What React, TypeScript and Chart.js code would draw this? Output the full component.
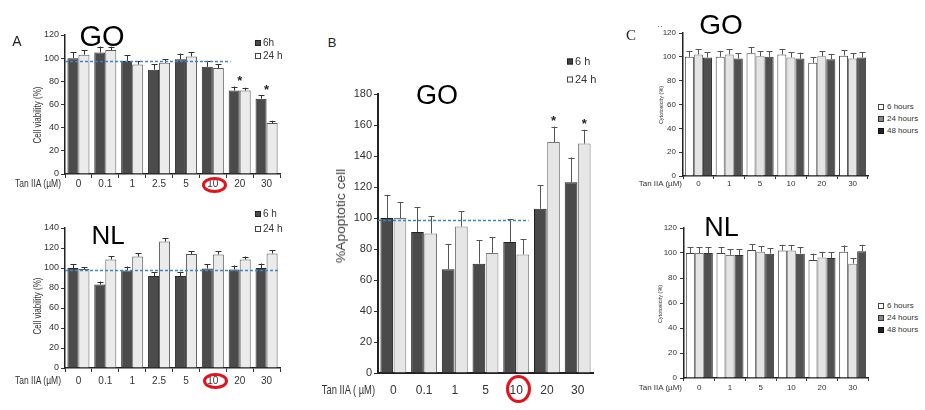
import React, { useEffect, useRef } from "react";
import { Chart, registerables } from "chart.js";
Chart.register(...registerables);

// ---------------- DATA ----------------
const labelsA = ["0", "0.1", "1", "2.5", "5", "10", "20", "30"];
const goA6h = [100, 105, 97.5, 90, 99, 92.5, 72, 65];
const goA6hErr = [5, 5, 5, 5, 5, 5, 3.5, 3];
const goA24h = [103, 107, 94.5, 96, 101.5, 91.5, 72, 44];
const goA24hErr = [4, 3, 3, 3, 3.5, 3.5, 2.5, 2];
const nlA6h = [100, 83.5, 97.5, 92, 92, 99.5, 98.5, 100];
const nlA6hErr = [4, 3, 4, 4, 4, 4, 4, 4.5];
const nlA24h = [99, 108.5, 111.5, 126.5, 114, 113.5, 108.5, 114.5];
const nlA24hErr = [2, 3.5, 3.5, 3, 2.5, 3.5, 3, 3.5];

const labelsB = ["0", "0.1", "1", "5", "10", "20", "30"];
const goB6h = [100, 91, 67, 70.5, 84.5, 106, 123];
const goB6hErr = [15, 16, 16, 15, 15, 15, 16];
const goB24h = [100, 90, 94.5, 77.5, 76.5, 149, 148];
const goB24hErr = [10, 11, 10, 10, 10, 10, 9];

const labelsC = ["0", "1", "5", "10", "20", "30"];
const goC6 = [100, 100, 103, 102, 95, 101];
const goC6Err = [5, 5, 5, 4.5, 4.5, 4.5];
const goC24 = [102, 102, 100.5, 99.5, 100.5, 98.5];
const goC24Err = [4.5, 4.5, 4, 4.5, 4.5, 4.5];
const goC48 = [99.5, 98.5, 100, 98.5, 98, 99.5];
const goC48Err = [4.5, 4.5, 4.5, 5, 4.5, 4.5];
const nlC6 = [100, 100, 102.5, 102, 94.5, 101];
const nlC6Err = [4.5, 4.5, 4.5, 4.5, 5, 5];
const nlC24 = [100, 98.5, 101, 102, 96.5, 91.5];
const nlC24Err = [4.5, 4.5, 4.5, 4.5, 4.5, 4.5];
const nlC48 = [100, 98.5, 99.5, 99.5, 96, 101.5];
const nlC48Err = [4.5, 4.5, 4.5, 5, 4.5, 5];

const refGoA = 97.5;
const refNlA = 98;
const refGoB = 99;

// ---------------- STYLE ----------------
const NARROW = "'Liberation Sans Narrow','Arial Narrow','Liberation Sans',Arial,sans-serif";
const SANS = "'Liberation Sans',Arial,Helvetica,sans-serif";
const SERIF = "'Liberation Serif','Times New Roman',serif";
const DARK = "#4b4b4b";
const LIGHT = "#ebebeb";

type DS = { data: number[]; err: number[]; bg: string; border: string };
type PanelProps = {
  area: number[];
  labels: string[];
  datasets: DS[];
  yMax: number;
  yStep: number;
  font: string;
  fontSize: number;
  xFontSize?: number;
  tickColor: string;
  yPad: number;
  xPad: number;
  xTickLen: number;
  yTickLen: number;
  axisW: number;
  catPct: number;
  barPct: number;
  errColor: string;
  cap: number;
  refLine?: { value: number; frac: number };
  stars?: { idx: number[]; ds: number | null; gap: number };
};

function Panel(p: PanelProps) {
  const ref = useRef<HTMLCanvasElement>(null);
  const [l, t, r, b] = p.area;
  const YW = 50, PT = 12, PR = 6, XH = 30;
  const cl = l - YW, ct = t - PT, cw = r - l + YW + PR, ch = b - t + PT + XH;
  useEffect(() => {
    const canvas = ref.current as HTMLCanvasElement;
    const extras = {
      id: "extras",
      afterDatasetsDraw(chart: any) {
        const ctx = chart.ctx;
        const ys = chart.scales.y;
        const xs = chart.scales.x;
        const area = chart.chartArea;
        ctx.save();
        // error bars
        p.datasets.forEach((d, i) => {
          const meta = chart.getDatasetMeta(i);
          meta.data.forEach((el: any, j: number) => {
            const top = ys.getPixelForValue(d.data[j] + d.err[j]);
            const x = Math.round(el.x) + 0.5;
            ctx.strokeStyle = p.errColor;
            ctx.lineWidth = 1;
            ctx.beginPath();
            ctx.moveTo(x, el.y);
            ctx.lineTo(x, top);
            ctx.moveTo(x - p.cap, Math.round(top) + 0.5);
            ctx.lineTo(x + p.cap, Math.round(top) + 0.5);
            ctx.stroke();
          });
        });
        // reference line
        if (p.refLine) {
          const y = Math.round(ys.getPixelForValue(p.refLine.value)) + 0.5;
          ctx.strokeStyle = "#3f86c8";
          ctx.lineWidth = 1.3;
          ctx.setLineDash([3, 2]);
          ctx.beginPath();
          ctx.moveTo(area.left, y);
          ctx.lineTo(area.left + p.refLine.frac * (area.right - area.left), y);
          ctx.stroke();
          ctx.setLineDash([]);
        }
        // stars
        if (p.stars) {
          ctx.fillStyle = "#222";
          ctx.font = "bold 13px " + SANS;
          ctx.textAlign = "center";
          ctx.textBaseline = "middle";
          p.stars.idx.forEach((j) => {
            let x: number, top: number;
            if (p.stars!.ds === null) {
              x = xs.getPixelForValue(j);
              top = Math.min(...p.datasets.map((d) => ys.getPixelForValue(d.data[j] + d.err[j])));
            } else {
              const k = p.stars!.ds as number;
              const el = chart.getDatasetMeta(k).data[j];
              x = el.x;
              top = ys.getPixelForValue(p.datasets[k].data[j] + p.datasets[k].err[j]);
            }
            ctx.fillText("*", x, top - p.stars!.gap);
          });
        }
        ctx.restore();
      },
    };
    const yfont = { family: p.font, size: p.fontSize };
    const xfont = { family: p.font, size: p.xFontSize || p.fontSize };
    const chart = new Chart(canvas, {
      type: "bar",
      data: {
        labels: p.labels,
        datasets: p.datasets.map((d) => ({
          data: d.data,
          backgroundColor: d.bg,
          borderColor: d.border,
          borderWidth: 1,
          categoryPercentage: p.catPct,
          barPercentage: p.barPct,
        })),
      },
      options: {
        animation: false,
        responsive: false,
        devicePixelRatio: 1,
        layout: { padding: { top: PT, right: PR, left: 0, bottom: 0 } },
        plugins: { legend: { display: false }, tooltip: { enabled: false } },
        scales: {
          x: {
            type: "category",
            offset: true,
            ticks: { font: xfont, color: p.tickColor, padding: p.xPad, autoSkip: false, maxRotation: 0 },
            grid: {
              display: p.xTickLen > 0,
              drawOnChartArea: false,
              offset: true,
              tickLength: p.xTickLen,
              color: "#333",
            },
            border: { display: true, color: "#222", width: p.axisW },
            afterFit: (s: any) => {
              s.height = XH;
            },
          },
          y: {
            min: 0,
            max: p.yMax,
            ticks: { stepSize: p.yStep, font: yfont, color: p.tickColor, padding: p.yPad },
            grid: { drawOnChartArea: false, tickLength: p.yTickLen, color: "#333" },
            border: { display: true, color: "#222", width: p.axisW },
            afterFit: (s: any) => {
              s.width = YW;
            },
          },
        },
      } as any,
      plugins: [extras],
    });
    return () => chart.destroy();
  }, []);
  return (
    <canvas
      ref={ref}
      width={cw}
      height={ch}
      style={{ position: "absolute", left: cl, top: ct, width: cw, height: ch }}
    />
  );
}

function Txt(props: any) {
  const { x, y, size, family, align = "center", rotate, color = "#222", weight, extra = "", spacing, children } = props;
  const tx = align === "left" ? "0" : align === "right" ? "-100%" : "-50%";
  const origin = align === "right" ? "right center" : align === "left" ? "left center" : "center center";
  return (
    <div
      style={{
        position: "absolute",
        left: x,
        top: y,
        transform: `translate(${tx},-50%)` + (rotate ? " rotate(-90deg)" : "") + extra,
        transformOrigin: rotate ? "center center" : origin,
        fontSize: size,
        fontFamily: family,
        fontWeight: weight || "normal",
        letterSpacing: spacing,
        color,
        whiteSpace: "nowrap",
        lineHeight: 1,
      }}
    >
      {children}
    </div>
  );
}

function Leg(props: any) {
  const { x, y, bg, border, text, size, family, box, gap = 2 } = props;
  return (
    <div
      style={{
        position: "absolute",
        left: x,
        top: y,
        transform: "translateY(-50%)",
        display: "flex",
        alignItems: "center",
        fontSize: size,
        fontFamily: family,
        color: "#333",
        whiteSpace: "nowrap",
        lineHeight: 1,
      }}
    >
      <span
        style={{
          display: "inline-block",
          width: box,
          height: box,
          background: bg,
          border: `1px solid ${border}`,
          boxSizing: "border-box",
          marginRight: gap,
        }}
      />
      {text}
    </div>
  );
}

function Ring(props: any) {
  const { x, y, w, h } = props;
  return (
    <div
      style={{
        position: "absolute",
        left: x - w / 2,
        top: y - h / 2,
        width: w,
        height: h,
        border: "3px solid #e3131b",
        borderRadius: "50%",
        boxSizing: "border-box",
      }}
    />
  );
}

export default function App() {
  const common = { yStep: 20, tickColor: "#333" };
  return (
    <div style={{ position: "absolute", left: 0, top: 0, width: 925, height: 410, background: "#fff", overflow: "hidden" }}>
      {/* Panel A - GO */}
      <Panel
        {...common}
        area={[65, 35, 280, 174]}
        labels={labelsA}
        datasets={[
          { data: goA6h, err: goA6hErr, bg: DARK, border: "#2a2a2a" },
          { data: goA24h, err: goA24hErr, bg: LIGHT, border: "#555" },
        ]}
        yMax={120}
        font={NARROW}
        fontSize={9}
        xFontSize={10}
        yPad={2}
        xPad={0}
        xTickLen={4}
        yTickLen={4}
        axisW={1.5}
        catPct={0.82}
        barPct={1}
        errColor="#333"
        cap={3}
        refLine={{ value: refGoA, frac: 0.77 }}
        stars={{ idx: [6, 7], ds: null, gap: 5 }}
      />
      {/* Panel A - NL */}
      <Panel
        {...common}
        area={[65, 228, 280, 368]}
        labels={labelsA}
        datasets={[
          { data: nlA6h, err: nlA6hErr, bg: DARK, border: "#2a2a2a" },
          { data: nlA24h, err: nlA24hErr, bg: LIGHT, border: "#555" },
        ]}
        yMax={140}
        font={NARROW}
        fontSize={9}
        xFontSize={10}
        yPad={2}
        xPad={3}
        xTickLen={4}
        yTickLen={4}
        axisW={1.5}
        catPct={0.82}
        barPct={1}
        errColor="#333"
        cap={3}
        refLine={{ value: refNlA, frac: 1 }}
      />
      {/* Panel B */}
      <Panel
        {...common}
        area={[378, 94, 593, 373]}
        labels={labelsB}
        datasets={[
          { data: goB6h, err: goB6hErr, bg: "#4a4a4a", border: "#222" },
          { data: goB24h, err: goB24hErr, bg: "#e6e6e6", border: "#777" },
        ]}
        yMax={180}
        font={NARROW}
        fontSize={11}
        xFontSize={12}
        yPad={2}
        xPad={10}
        xTickLen={0}
        yTickLen={4}
        axisW={2}
        catPct={0.86}
        barPct={0.96}
        errColor="#555"
        cap={3}
        refLine={{ value: refGoB, frac: 0.7 }}
        stars={{ idx: [5, 6], ds: 1, gap: 5 }}
      />
      {/* Panel C - GO */}
      <Panel
        {...common}
        area={[683, 33, 868, 176]}
        labels={labelsC}
        datasets={[
          { data: goC6, err: goC6Err, bg: "#ffffff", border: "#444" },
          { data: goC24, err: goC24Err, bg: "#e4e4e4", border: "#777" },
          { data: goC48, err: goC48Err, bg: "#505050", border: "#333" },
        ]}
        yMax={120}
        font={SANS}
        fontSize={8}
        yPad={3}
        xPad={0}
        xTickLen={3}
        yTickLen={4}
        axisW={1.5}
        catPct={0.88}
        barPct={1}
        errColor="#555"
        cap={3}
      />
      {/* Panel C - NL */}
      <Panel
        {...common}
        area={[684, 228, 868, 378]}
        labels={labelsC}
        datasets={[
          { data: nlC6, err: nlC6Err, bg: "#ffffff", border: "#444" },
          { data: nlC24, err: nlC24Err, bg: "#e4e4e4", border: "#777" },
          { data: nlC48, err: nlC48Err, bg: "#505050", border: "#333" },
        ]}
        yMax={120}
        font={SANS}
        fontSize={8}
        yPad={3}
        xPad={2}
        xTickLen={3}
        yTickLen={4}
        axisW={1.5}
        catPct={0.88}
        barPct={1}
        errColor="#555"
        cap={3}
      />

      {/* Panel A text */}
      <Txt x={17} y={41} size={14} family={SANS}>A</Txt>
      <Txt x={102} y={36} size={29} family={SANS} color="#000">GO</Txt>
      <Txt x={108} y={235} size={26} family={SANS} color="#000">NL</Txt>
      <Txt x={38} y={115} size={10} family={NARROW} rotate extra=" scale(0.8,1)" color="#333">Cell viability (%)</Txt>
      <Txt x={38} y={306} size={10} family={NARROW} rotate extra=" scale(0.8,1)" color="#333">Cell viability (%)</Txt>
      <Txt x={61} y={184} size={10} family={NARROW} align="right" extra=" scale(0.85,1)" color="#333">Tan IIA (µM)</Txt>
      <Txt x={61} y={381} size={10} family={NARROW} align="right" extra=" scale(0.85,1)" color="#333">Tan IIA (µM)</Txt>
      <Leg x={255} y={43} bg={DARK} border="#222" text="6h" size={10} family={NARROW} box={6} />
      <Leg x={255} y={56} bg="#fff" border="#444" text="24 h" size={10} family={NARROW} box={6} />
      <Leg x={255} y={214} bg={DARK} border="#222" text="6 h" size={10} family={NARROW} box={6} />
      <Leg x={255} y={229} bg="#fff" border="#444" text="24 h" size={10} family={NARROW} box={6} />
      <Ring x={214.5} y={184.5} w={25} h={16} />
      <Ring x={215} y={380.5} w={25} h={16} />

      {/* Panel B text */}
      <Txt x={332} y={42} size={13} family={SANS}>B</Txt>
      <Txt x={437} y={95} size={27} family={SANS} color="#000">GO</Txt>
      <Txt x={341} y={216} size={12} family={NARROW} rotate extra=" scale(1.15,1)" color="#444">%Apoptotic cell</Txt>
      <Txt x={375} y={390} size={12} family={NARROW} align="right" extra=" scale(0.78,1.1)" color="#333">Tan IIA ( µM)</Txt>
      <Leg x={567} y={61} bg="#444" border="#222" text="6 h" size={11} family={NARROW} box={6} />
      <Leg x={567} y={79} bg="#fff" border="#444" text="24 h" size={11} family={NARROW} box={6} />
      <Ring x={518} y={389} w={25} h={28} />

      {/* Panel C text */}
      <Txt x={631} y={35} size={15} family={SERIF}>C</Txt>
      <Txt x={660} y={26} size={9} family={SANS} color="#555">··</Txt>
      <Txt x={721} y={25} size={28} family={SANS} color="#000">GO</Txt>
      <Txt x={721.5} y={227} size={27} family={SANS} color="#000">NL</Txt>
      <Txt x={662} y={105} size={5.5} family={SANS} rotate color="#333">Cytotoxicity (%)</Txt>
      <Txt x={661} y={304} size={5.5} family={SANS} rotate color="#333">Cytotoxicity (%)</Txt>
      <Txt x={682} y={184} size={8} family={SANS} align="right" color="#333">Tan IIA (µM)</Txt>
      <Txt x={682} y={388} size={8} family={SANS} align="right" color="#333">Tan IIA (µM)</Txt>
      <Leg x={878} y={107} bg="#fff" border="#444" text="6 hours" size={8} family={SANS} box={6} gap={3} />
      <Leg x={878} y={119} bg="#888" border="#333" text="24 hours" size={8} family={SANS} box={6} gap={3} />
      <Leg x={878} y={131} bg="#222" border="#111" text="48 hours" size={8} family={SANS} box={6} gap={3} />
      <Leg x={878} y={305.5} bg="#fff" border="#444" text="6 hours" size={8} family={SANS} box={6} gap={3} />
      <Leg x={878} y={317.5} bg="#888" border="#333" text="24 hours" size={8} family={SANS} box={6} gap={3} />
      <Leg x={878} y={329.5} bg="#222" border="#111" text="48 hours" size={8} family={SANS} box={6} gap={3} />
    </div>
  );
}
